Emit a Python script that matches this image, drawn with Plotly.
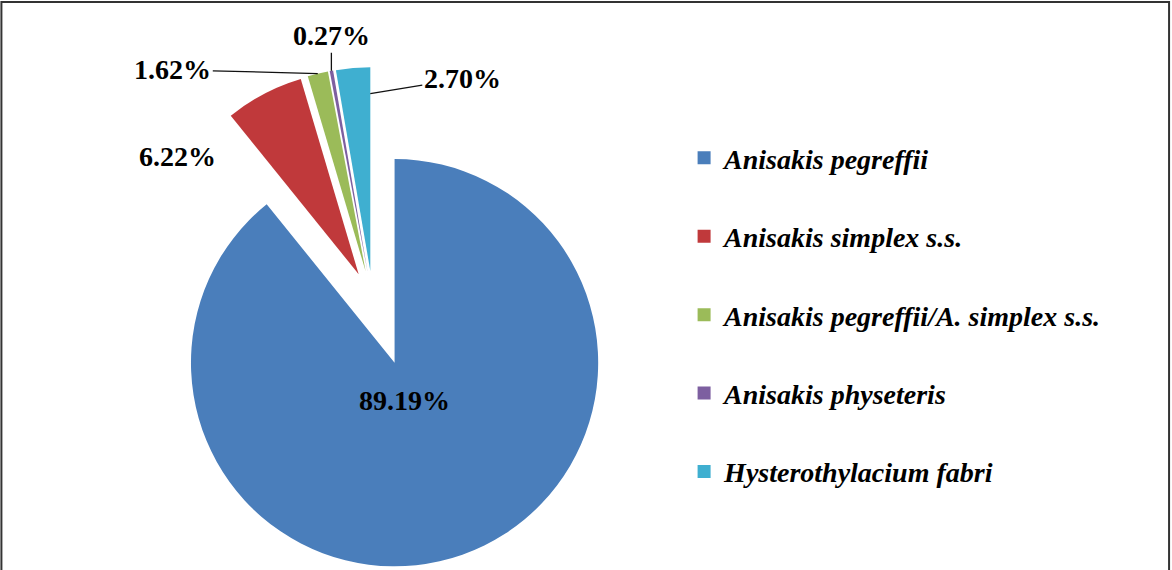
import math
import plotly.graph_objects as go

# ---- data ----
species = [
    "Anisakis pegreffii",
    "Anisakis simplex s.s.",
    "Anisakis pegreffii/A. simplex s.s.",
    "Anisakis physeteris",
    "Hysterothylacium fabri",
]
percent = [89.19, 6.22, 1.62, 0.27, 2.70]

# ---- styles ----
colors = ["#4A7EBB", "#C0393B", "#9BBB59", "#7D5FA0", "#3FAFD0"]
pulls = [0.32, 0.15, 0.15, 0.15, 0.15]

# label placement styles: where on the slice the label/leader attaches
# (fraction along the slice angle, fraction of radius) and text offset in px
anchor_frac = [0.5, 0.5, 0.5, 0.5, 1.0]
anchor_rad = [0.0, 1.0, 1.0, 1.0, 0.87]
label_dx = [10, -86, -145, 0, 92]
label_dy = [38, 63, -4, -35, -15]
label_arrow = [False, False, True, True, True]

W, H = 1172, 570
FONT = "Liberation Serif"
DOM_X = [0.0877, 0.5486]
DOM_Y = [0.0, 0.943]

fig = go.Figure()

fig.add_trace(go.Pie(
    labels=species,
    values=percent,
    sort=False,
    direction="clockwise",
    rotation=0,
    pull=pulls,
    marker=dict(colors=colors, line=dict(width=0)),
    textinfo="none",
    showlegend=False,
    automargin=False,
    hoverinfo="label+percent",
    domain=dict(x=DOM_X, y=DOM_Y),
))

# ---- percentage labels, attached to the slices (same geometry plotly uses) ----
wpx = W * (DOM_X[1] - DOM_X[0])
hpx = H * (DOM_Y[1] - DOM_Y[0])
r = min(wpx, hpx) / 2 / (1 + max(pulls))
cx = W * (DOM_X[0] + DOM_X[1]) / 2
cy = H * (1 - DOM_Y[0]) - hpx / 2
total = sum(percent)
cum = 0.0
annotations = []
for i, v in enumerate(percent):
    a0 = cum / total * 2 * math.pi
    a1 = (cum + v) / total * 2 * math.pi
    cum += v
    mid = (a0 + a1) / 2
    scx = cx + pulls[i] * r * math.sin(mid)
    scy = cy - pulls[i] * r * math.cos(mid)
    ang = a0 + anchor_frac[i] * (a1 - a0)
    px = scx + anchor_rad[i] * r * math.sin(ang)
    py = scy - anchor_rad[i] * r * math.cos(ang)
    ann = dict(
        x=px / W, y=1 - py / H, xref="paper", yref="paper",
        text=f"{v:.2f}%",
        font=dict(family=FONT, size=28, color="black", weight="bold"),
        xanchor="center", yanchor="middle",
    )
    if label_arrow[i]:
        ann.update(showarrow=True, ax=label_dx[i], ay=label_dy[i],
                   arrowhead=0, arrowwidth=1.3, arrowcolor="#111111",
                   standoff=0, startstandoff=0)
    else:
        ann.update(showarrow=False, xshift=label_dx[i], yshift=-label_dy[i])
    annotations.append(ann)

# legend proxies (one group each so the gap between entries can be set)
for name, col in zip(species, colors):
    fig.add_trace(go.Scatter(
        x=[None], y=[None], mode="markers", name=name,
        legendgroup=name,
        marker=dict(symbol="square", size=13, color=col),
        hoverinfo="skip",
    ))

fig.update_layout(
    width=W, height=H,
    margin=dict(l=0, r=0, t=0, b=0, autoexpand=False),
    paper_bgcolor="white",
    plot_bgcolor="white",
    xaxis=dict(visible=False),
    yaxis=dict(visible=False),
    annotations=annotations,
    legend=dict(
        x=0.5837, y=0.448, xanchor="left", yanchor="middle",
        font=dict(family=FONT, size=28, color="black", weight="bold", style="italic"),
        tracegroupgap=39,
        itemwidth=30,
        bgcolor="rgba(0,0,0,0)",
    ),
    shapes=[dict(
        type="rect", xref="paper", yref="paper",
        x0=0.0012, x1=0.9975, y0=-0.05, y1=0.9965,
        line=dict(color="#333333", width=2),
        fillcolor="rgba(0,0,0,0)", layer="above",
    )],
)

fig.write_html(
    "out.html",
    config={"displayModeBar": False},
    post_script="document.body.style.margin='0px';",
)
